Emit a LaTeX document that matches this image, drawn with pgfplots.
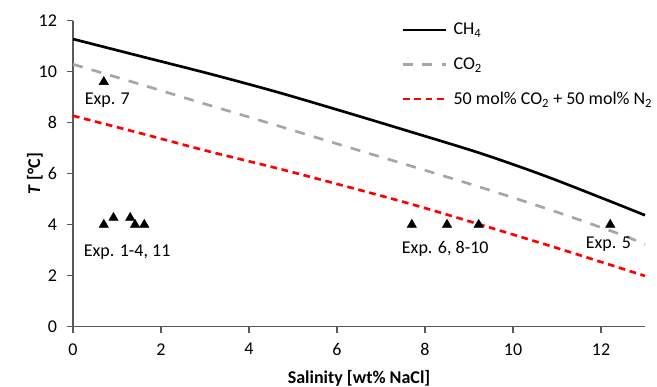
\documentclass[border=0pt]{standalone}
\usepackage{fontspec}
\setmainfont{Carlito}
\usepackage{pgfplots}
\pgfplotsset{compat=1.18}
\definecolor{axgray}{HTML}{595959}
\definecolor{co2gray}{HTML}{A6A6A6}
\begin{document}
\begin{tikzpicture}
\useasboundingbox (-54.75pt,-45.2pt) rectangle (438pt,245pt);
\begin{axis}[
  scale only axis,
  width=429pt, height=229.5pt,
  xmin=0, xmax=13, ymin=0, ymax=12,
  xtick={0,2,...,12}, ytick={0,2,...,12},
  axis x line*=bottom, axis y line*=left,
  axis line style={axgray, line width=0.9pt},
  tick style={axgray, line width=0.9pt},
  tick align=outside,
  major tick length=4.5pt,
  /pgf/number format/assume math mode=true,
  ticklabel style={font=\fontsize{13.5}{16}\selectfont, text=black},
  xticklabel style={yshift=-4.5pt},
  yticklabel style={xshift=-4pt},
  label style={font=\fontsize{13.5}{16}\selectfont\bfseries},
  xlabel={Salinity [wt\% NaCl]},
  ylabel={\textit{T} [°C]},
  xlabel style={yshift=-4pt},
  ylabel style={yshift=-10pt},
  clip=false,
  legend style={draw=none, fill=none, at={(rel axis cs:0.567,1.01)}, anchor=north west,
    font=\fontsize{13.5}{16}\selectfont, row sep=11.5pt,
    /tikz/every even column/.append style={column sep=0pt},
    /tikz/every odd column/.append style={column sep=3pt}},
  legend cell align=left,
  legend image code/.code={\draw[#1] (0pt,0pt) -- (32pt,0pt);},
]
\addplot[black, line width=2pt, smooth] coordinates {
(0,11.28) (1.5,10.62) (3.12,9.91) (4.6,9.22) (6.08,8.47) (7.6,7.68) (9.26,6.80) (10.7,5.93) (12.13,4.97) (13,4.37)};
\addlegendentry{CH\textsubscript{4}}
\addplot[co2gray, line width=2pt, dash pattern=on 7.5pt off 7pt, smooth] coordinates {
(0,10.29) (1.5,9.52) (2.97,8.75) (4.5,7.96) (6.08,7.13) (7.7,6.29) (9.33,5.43) (10.9,4.55) (12.44,3.62) (13,3.22)};
\addlegendentry{CO\textsubscript{2}}
\addplot[red, line width=2pt, dash pattern=on 5pt off 3.5pt, smooth] coordinates {
(0,8.27) (1.5,7.60) (3.05,6.89) (4.6,6.23) (6.08,5.56) (7.7,4.80) (9.26,4.00) (11.1,3.03) (13,1.99)};
\addlegendentry{50 mol\% CO\textsubscript{2} + 50 mol\% N\textsubscript{2}}
\addplot[only marks, mark=triangle*, mark size=4pt, black, forget plot] coordinates {
(0.70,9.6) (0.70,4.0) (0.92,4.27) (1.30,4.27) (1.41,4.0) (1.62,4.0) (7.70,4.0) (8.50,4.0) (9.22,4.0) (12.21,4.0)};
\node[font=\fontsize{13.5}{16}\selectfont] at (axis cs:0.78,8.9) {Exp. 7};
\node[font=\fontsize{13.5}{16}\selectfont] at (axis cs:1.23,2.94) {Exp. 1-4, 11};
\node[font=\fontsize{13.5}{16}\selectfont] at (axis cs:8.46,3.07) {Exp. 6, 8-10};
\node[font=\fontsize{13.5}{16}\selectfont] at (axis cs:12.17,3.24) {Exp. 5};
\end{axis}
\end{tikzpicture}
\end{document}
